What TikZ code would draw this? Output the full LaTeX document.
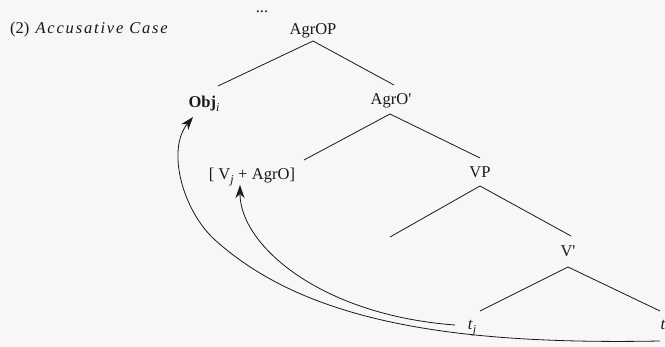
\documentclass[tikz,border=0pt]{standalone}
\usepackage{fontspec}
\setmainfont{Liberation Serif}[Ligatures=TeXOff]
\usetikzlibrary{calc,arrows.meta}
\definecolor{bg}{RGB}{248,246,247}
\definecolor{ink}{RGB}{25,25,25}
\newcommand{\mysub}[1]{\raisebox{-3.5pt}{\fontsize{12}{12}\selectfont\itshape #1}}
\begin{document}
\begin{tikzpicture}[x=1pt,y=-1pt,
  lbl/.style={anchor=base,inner sep=0pt,text=ink,font=\fontsize{16.5}{19}\selectfont},
  edge/.style={draw=ink,line width=0.8pt},
  mv/.style={draw=ink,line width=0.8pt,-{Stealth[length=13pt,width=9pt,inset=4pt]}}]
\fill[bg] (0,0) rectangle (665,347);
\useasboundingbox (0,0) rectangle (665,347);
\node[lbl] (dots) at (262,13) {...};
\node[lbl,anchor=base west] (title) at (10,34) {(2)\hspace{2pt} {\itshape\addfontfeature{LetterSpace=11}Accusative Case}};
\node[lbl] (agrop) at (313,35) {AgrOP};
\node[lbl] (obj) at (204,108) {\textbf{Obj}\mysub{i}};
\node[lbl] (agro) at (391,105) {AgrO'};
\node[lbl] (vbr) at (252,180) {[\hspace{4pt}V\mysub{j}\hspace{4.5pt}+\hspace{4.5pt}AgrO]};
\node[lbl] (vp) at (480,178) {VP};
\node[lbl] (vbar) at (568,257) {V'};
\node[lbl] (tj) at (472,330) {\textit{t}\mysub{j}};
\node[lbl] (t) at (663,330) {\textit{t}};
\coordinate (vpl) at ($(vp.base)+(-90,59)$);
% tree edges
\draw[edge] ($(agrop.base)+(0,6)$) -- ($(obj.base)+(14,-22)$);
\draw[edge] ($(agrop.base)+(0,6)$) -- ($(agro.base)+(3,-20)$);
\draw[edge] ($(agro.base)+(-1,9)$) -- ($(vbr.base)+(52,-20)$);
\draw[edge] ($(agro.base)+(-1,9)$) -- ($(vp.base)+(0,-20)$);
\draw[edge] ($(vp.base)+(0,8)$) -- (vpl);
\draw[edge] ($(vp.base)+(0,8)$) -- ($(vbar.base)+(3,-21)$);
\draw[edge] ($(vbar.base)+(0,10)$) -- ($(tj.base)+(8,-19)$);
\draw[edge] ($(vbar.base)+(0,10)$) -- ($(t.base)+(-3,-19)$);
% movement arrows
\draw[mv] ($(tj.base)+(-17,-5)$) .. controls (320,315) and (240,245) .. ($(vbr.base)+(-12,5)$);
\draw[mv] ($(t.base)+(-3,11)$) .. controls (450,345) and (305,321) .. (215,240)
  .. controls (183,211) and (166,150) .. ($(obj.base)+(-11,9)$);
\end{tikzpicture}
\end{document}
